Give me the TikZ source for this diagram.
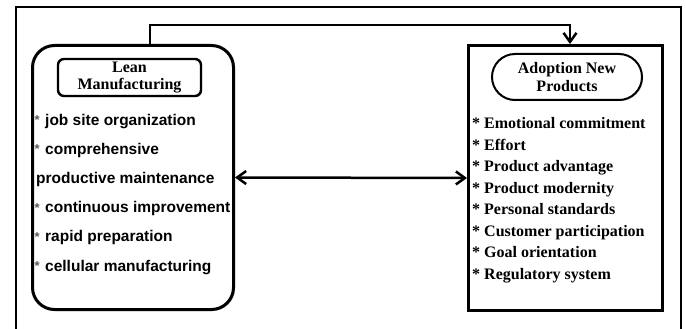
\documentclass[tikz,border=0pt]{standalone}
\usepackage{fontspec}
\setmainfont{Liberation Serif}
\setsansfont{Liberation Sans}
\usetikzlibrary{arrows.meta,shadows}

\newcommand{\serifbold}{\fontsize{16}{18.4}\selectfont\rmfamily\bfseries}
\newcommand{\sansbold}{\fontsize{15.5}{18}\selectfont\sffamily\bfseries}
\newcommand{\smallstar}{\makebox[0pt][r]{\raisebox{0.5pt}{\textcolor{black!65}{\fontsize{13}{13}\selectfont *}}\hspace{5.5pt}}}

\tikzset{
  frame/.style={line width=2pt},
  panel/.style={draw, fill=white, line width=3pt, inner sep=0pt,
    drop shadow={shadow xshift=1.5pt, shadow yshift=-1.5pt, opacity=0.35}},
  titlebox/.style={draw, fill=white, align=center, inner sep=0pt, font=\serifbold,
    drop shadow={shadow xshift=1.2pt, shadow yshift=-1.2pt, opacity=0.35}},
  leanitem/.style={anchor=base west, inner sep=0pt, font=\sansbold},
  adoptitem/.style={anchor=base west, inner sep=0pt, font=\serifbold},
  link/.style={line width=2.5pt},
  barb/.tip={Straight Barb[length=9pt, width=13pt]}
}

\begin{document}
\begin{tikzpicture}[x=1pt, y=-1pt]
\useasboundingbox (0,0) rectangle (686,329);
\clip (0,0) rectangle (686,329);

% open outer frame (its lower edge lies below the page)
\draw[frame] (16,340) -- (16,7) -- (681,7) -- (681,340);

% the two panels
\node[panel, rounded corners=22, minimum width=201, minimum height=264, anchor=north west]
  (lean) at (31,44) {};
\node[panel, minimum width=194, minimum height=265, anchor=north west]
  (adopt) at (467,44) {};

% panel titles
\node[titlebox, line width=2.4pt, rounded corners=6, minimum width=143, minimum height=37]
  (leantitle) at (129.5,77.5) {Lean\\[-1pt]Manufacturing};
\node[titlebox, line width=2pt, rounded corners=23, minimum width=150, minimum height=46]
  (adopttitle) at (567,77) {Adoption New\\[-1pt]Products};

% lean manufacturing practices
\node[leanitem] (l1) at (45,125)   {\smallstar job site organization};
\node[leanitem] (l2) at (45,154)   {\smallstar comprehensive};
\node[leanitem] (l3) at (36,183)   {productive maintenance};
\node[leanitem] (l4) at (45,212.5) {\smallstar continuous improvement};
\node[leanitem] (l5) at (45,241.5) {\smallstar rapid preparation};
\node[leanitem] (l6) at (45,271)   {\smallstar cellular manufacturing};

% adoption factors
\node[adoptitem] (a1) at (472,128.7) {* Emotional commitment};
\node[adoptitem] (a2) at (472,150.2) {* Effort};
\node[adoptitem] (a3) at (472,171.7) {* Product advantage};
\node[adoptitem] (a4) at (472,193.2) {* Product modernity};
\node[adoptitem] (a5) at (472,214.7) {* Personal standards};
\node[adoptitem] (a6) at (472,236.2) {* Customer participation};
\node[adoptitem] (a7) at (472,257.7) {* Goal orientation};
\node[adoptitem] (a8) at (472,279.2) {* Regulatory system};

% connectors
\coordinate (up1) at (150,25);
\coordinate (up2) at (570,25);
\draw[link, -barb] (lean.north -| up1) -- (up1) -- (up2) -- (adopt.north -| up2);
\draw[link, barb-barb] (lean.east) -- (adopt.west);
\end{tikzpicture}
\end{document}
